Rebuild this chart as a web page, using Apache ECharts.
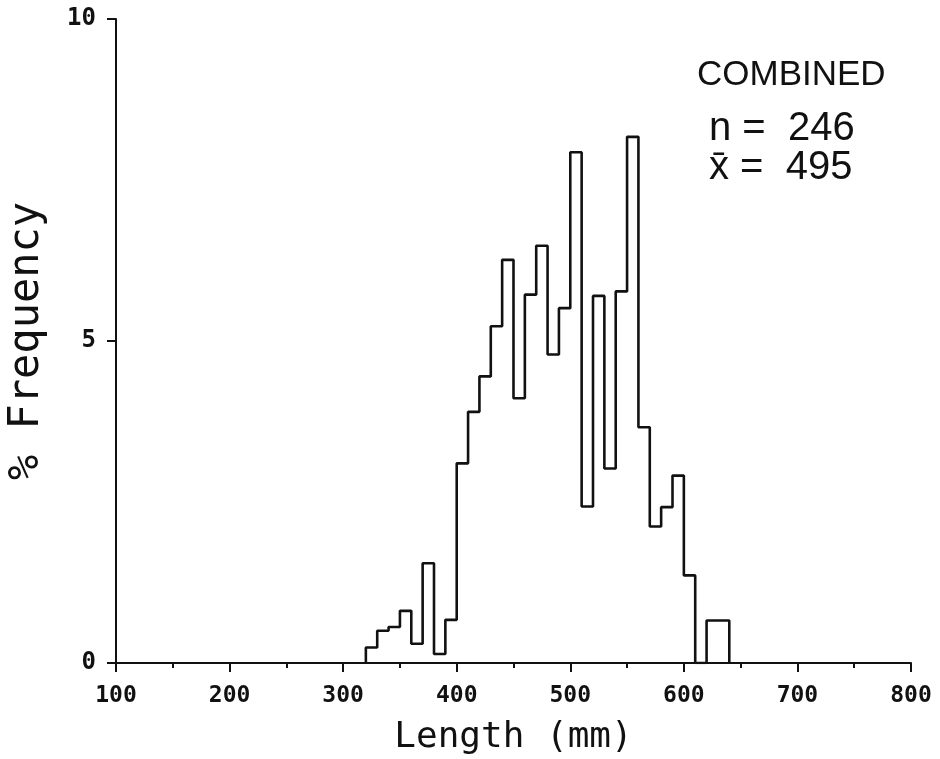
<!DOCTYPE html>
<html>
<head>
<meta charset="utf-8">
<script src="https://cdn.jsdelivr.net/npm/echarts@6/dist/echarts.min.js"></script>
<style>
  html, body { margin: 0; padding: 0; background: #fff; }
  #chart { width: 940px; height: 759px; }
</style>
</head>
<body>
<div id="chart"></div>
<script>
// Histogram data: bin start (mm), bin width 10 mm, % frequency
const binStarts = [320, 330, 340, 350, 360, 370, 380, 390, 400, 410, 420, 430, 440, 450, 460, 470,
                   480, 490, 500, 510, 520, 530, 540, 550, 560, 570, 580, 590, 600, 610, 620, 630];
const binWidth = 10;
const percentFreq = [0.24, 0.50, 0.56, 0.81, 0.30, 1.55, 0.14, 0.67, 3.10, 3.90, 4.45, 5.23, 6.26, 4.11, 5.72, 6.48,
                     4.79, 5.51, 7.93, 2.43, 5.70, 3.02, 5.77, 8.17, 3.66, 2.12, 2.42, 2.91, 1.36, 0, 0.66, 0.66];
const xTicks = [100, 200, 300, 400, 500, 600, 700, 800];
const yTicks = [0, 5, 10];
const titleLabel = 'COMBINED';
const nLabel = 'n =  246';
const meanLabel = 'x\u0304 =  495';

// build step outline from the bins
const outline = [[binStarts[0], 0]];
binStarts.forEach((s, i) => {
  outline.push([s, percentFreq[i]]);
  outline.push([s + binWidth, percentFreq[i]]);
});
outline.push([binStarts[binStarts.length - 1] + binWidth, 0]);

const chart = echarts.init(document.getElementById('chart'));
const ink = '#111';
const monoFont = '"DejaVu Sans Mono", monospace';

chart.setOption({
  animation: false,
  backgroundColor: '#fff',
  grid: { left: 116, right: 29, top: 19, bottom: 96, containLabel: false, outerBoundsMode: 'none' },
  xAxis: {
    type: 'value',
    min: xTicks[0], max: xTicks[xTicks.length - 1], interval: 100,
    name: 'Length (mm)',
    nameLocation: 'middle',
    nameGap: 57,
    nameTextStyle: { color: ink, fontFamily: monoFont, fontSize: 36 },
    axisLine: { lineStyle: { color: ink, width: 2 } },
    axisTick: { length: 9, lineStyle: { color: ink, width: 2 } },
    minorTick: { show: true, splitNumber: 2, length: 5, lineStyle: { color: ink, width: 2 } },
    axisLabel: { color: ink, fontFamily: monoFont, fontSize: 23, fontWeight: 'bold', margin: 22 },
    splitLine: { show: false }
  },
  yAxis: {
    type: 'value',
    min: yTicks[0], max: yTicks[yTicks.length - 1], interval: 5,
    name: '% Frequency',
    nameLocation: 'middle',
    nameGap: 68,
    nameTextStyle: { color: ink, fontFamily: monoFont, fontSize: 42 },
    axisLine: { show: true, lineStyle: { color: ink, width: 2 } },
    axisTick: { show: true, length: 9, lineStyle: { color: ink, width: 2 } },
    axisLabel: { color: ink, fontFamily: monoFont, fontSize: 24, fontWeight: 'bold', margin: 20 },
    splitLine: { show: false }
  },
  series: [{
    type: 'line',
    data: outline,
    symbol: 'none',
    lineStyle: { color: ink, width: 2.6 },
    z: 3
  }],
  graphic: [
    { type: 'text', left: 697, top: 58,
      style: { text: titleLabel, fill: ink, font: '35px "Liberation Sans", Arial, sans-serif' } },
    { type: 'text', left: 709, top: 109,
      style: { text: nLabel, fill: ink, font: '40px "Liberation Sans", Arial, sans-serif' } },
    { type: 'text', left: 709, top: 148,
      style: { text: meanLabel, fill: ink, font: '40px "Liberation Sans", Arial, sans-serif' } }
  ]
});
</script>
</body>
</html>
